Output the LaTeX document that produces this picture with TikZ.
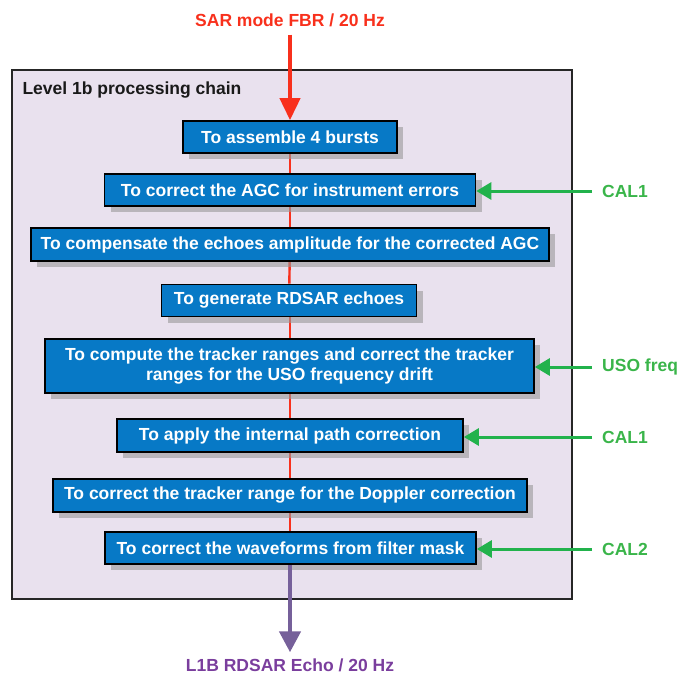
\documentclass[tikz,border=0pt]{standalone}
\usepackage{fontspec}
\setmainfont{Liberation Sans}
\usetikzlibrary{arrows.meta,shadows,backgrounds}

\definecolor{stepblue}{HTML}{0779C6}
\definecolor{chainbg}{HTML}{E9E1EE}
\definecolor{flowred}{HTML}{F8301C}
\definecolor{calgreen}{HTML}{22B24C}
\definecolor{calgreentext}{HTML}{3AB54A}
\definecolor{outpurple}{HTML}{76609A}
\definecolor{outpurpletext}{HTML}{7A3E9D}

\tikzset{
  txt/.style={font=\fontsize{17.5}{20}\selectfont\bfseries, inner sep=0pt},
  stepbox/.style={txt, draw=black, line width=1.6pt, fill=stepblue, text=white,
    minimum height=32pt, align=center,
    drop shadow={shadow xshift=6pt, shadow yshift=-6pt, fill=black!40, opacity=0.6}},
  frame/.style={draw=black!85, line width=1.3pt, fill=chainbg, inner sep=0pt},
  link/.style={draw=flowred, line width=2.4pt},
  calarrow/.style={draw=calgreen, line width=3pt, -{Triangle[length=15pt,width=17pt]}},
  callabel/.style={txt, text=calgreentext, anchor=west},
}

\begin{document}
\begin{tikzpicture}[x=1pt,y=-1pt]
\useasboundingbox (0,0) rectangle (677,679);

% processing steps
\node[stepbox, minimum width=214pt] (b1) at (290,137)   {To assemble 4 bursts};
\node[stepbox, minimum width=371pt] (b2) at (290,190)   {To correct the AGC for instrument errors};
\node[stepbox, minimum width=518pt, minimum height=33pt] (b3) at (290,244.5) {To compensate the echoes amplitude for the corrected AGC};
\node[stepbox, minimum width=255pt] (b4) at (289,300.5) {To generate RDSAR echoes};
\node[stepbox, minimum width=489pt, minimum height=54pt] (b5) at (289.5,366) {To compute the tracker ranges and correct the tracker\\ranges for the USO frequency drift};
\node[stepbox, minimum width=346pt, minimum height=33pt] (b6) at (290,435.5) {To apply the internal path correction};
\node[stepbox, minimum width=474pt, minimum height=33pt] (b7) at (290,495.5) {To correct the tracker range for the Doppler correction};
\node[stepbox, minimum width=371pt] (b8) at (290.5,548) {To correct the waveforms from filter mask};

% frame of the chain and the links between steps, behind the steps
\begin{scope}[on background layer]
  \node[frame, minimum width=560pt, minimum height=529pt] (chain) at (292,334.5) {};
  \node[txt, anchor=north west, text=black!90] (title) at ([shift={(11pt,-12pt)}]chain.north west) {Level 1b processing chain};
  \draw[link] (b1) -- (b2);
  \draw[link] (b2) -- (b3);
  \draw[link] (b3) -- (b4);
  \draw[link] (b4.south -| b1.south) -- (b5.north -| b1.south);
  \draw[link] (b5.south -| b1.south) -- (b6.north -| b1.south);
  \draw[link] (b6) -- (b7);
  \draw[link] (b7) -- (b8.north -| b1.south);
\end{scope}

% input
\node[txt, text=flowred, inner sep=4pt] (src) at (290,20) {SAR mode FBR / 20 Hz};
\draw[draw=flowred, line width=4pt, -{Triangle[length=22pt,width=20pt]}, shorten <=4pt] (src.south) -- (b1.north);

% output
\node[txt, text=outpurpletext] (out) at (290,665) {L1B RDSAR Echo / 20 Hz};
\draw[draw=outpurple, line width=4.5pt, -{Triangle[length=21pt,width=21pt]}, shorten >=6pt] (b8.south -| b1.south) -- (out.north);

% calibration inputs
\node[callabel] (cal1a) at (602,191) {CAL1};
\node[callabel] (uso)   at (602,367) {USO freq};
\node[callabel] (cal1b) at (602,437) {CAL1};
\node[callabel] (cal2)  at (602,549) {CAL2};
\draw[calarrow] (cal1a.west) ++(-10pt,0) coordinate (c1) (c1) -- (c1 -| b2.east);
\draw[calarrow] (uso.west) ++(-10pt,0) coordinate (c2) (c2) -- (c2 -| b5.east);
\draw[calarrow] (cal1b.west) ++(-10pt,0) coordinate (c3) (c3) -- (c3 -| b6.east);
\draw[calarrow] (cal2.west) ++(-10pt,0) coordinate (c4) (c4) -- (c4 -| b8.east);
\end{tikzpicture}
\end{document}
